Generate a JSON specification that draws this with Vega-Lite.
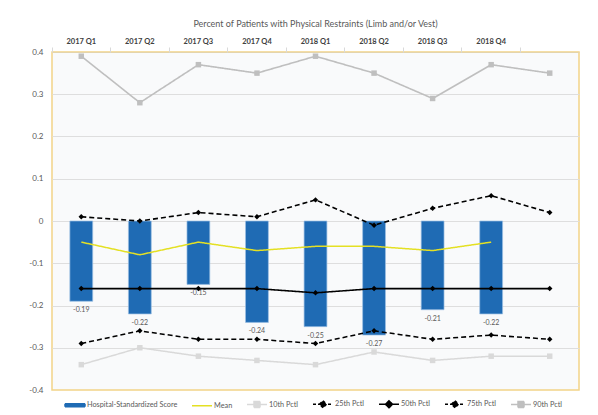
{
  "$schema": "https://vega.github.io/schema/vega-lite/v6.json",
  "width": 527,
  "height": 338,
  "autosize": "none",
  "padding": {"left": 52, "top": 52, "right": 19, "bottom": 25},
  "background": "white",
  "title": {"text": "Percent of Patients with Physical Restraints (Limb and/or Vest)", "fontSize": 9, "font": "Lato", "fontWeight": "normal", "color": "#595959", "anchor": "middle", "offset": 8},
  "config": {
    "font": "Lato",
    "view": {"fill": "#f9fafb", "stroke": "#f2d488", "strokeWidth": 1.5}
  },
  "data": {"values": [
    {"q": "2017 Q1", "Hospital-Standardized Score": -0.19, "Mean": -0.05, "10th Pctl": -0.34, "25th Pctl": -0.29, "50th Pctl": -0.16, "75th Pctl": 0.01, "90th Pctl": 0.39},
    {"q": "2017 Q2", "Hospital-Standardized Score": -0.22, "Mean": -0.08, "10th Pctl": -0.30, "25th Pctl": -0.26, "50th Pctl": -0.16, "75th Pctl": 0.00, "90th Pctl": 0.28},
    {"q": "2017 Q3", "Hospital-Standardized Score": -0.15, "Mean": -0.05, "10th Pctl": -0.32, "25th Pctl": -0.28, "50th Pctl": -0.16, "75th Pctl": 0.02, "90th Pctl": 0.37},
    {"q": "2017 Q4", "Hospital-Standardized Score": -0.24, "Mean": -0.07, "10th Pctl": -0.33, "25th Pctl": -0.28, "50th Pctl": -0.16, "75th Pctl": 0.01, "90th Pctl": 0.35},
    {"q": "2018 Q1", "Hospital-Standardized Score": -0.25, "Mean": -0.06, "10th Pctl": -0.34, "25th Pctl": -0.29, "50th Pctl": -0.17, "75th Pctl": 0.05, "90th Pctl": 0.39},
    {"q": "2018 Q2", "Hospital-Standardized Score": -0.27, "Mean": -0.06, "10th Pctl": -0.31, "25th Pctl": -0.26, "50th Pctl": -0.16, "75th Pctl": -0.01, "90th Pctl": 0.35},
    {"q": "2018 Q3", "Hospital-Standardized Score": -0.21, "Mean": -0.07, "10th Pctl": -0.33, "25th Pctl": -0.28, "50th Pctl": -0.16, "75th Pctl": 0.03, "90th Pctl": 0.29},
    {"q": "2018 Q4", "Hospital-Standardized Score": -0.22, "Mean": -0.05, "10th Pctl": -0.32, "25th Pctl": -0.27, "50th Pctl": -0.16, "75th Pctl": 0.06, "90th Pctl": 0.37},
    {"q": "2019 Q1", "10th Pctl": -0.32, "25th Pctl": -0.28, "50th Pctl": -0.16, "75th Pctl": 0.02, "90th Pctl": 0.35}
  ]},
  "transform": [
    {"fold": ["Hospital-Standardized Score", "Mean", "10th Pctl", "25th Pctl", "50th Pctl", "75th Pctl", "90th Pctl"], "as": ["series", "value"]},
    {"filter": "isValid(datum.value)"}
  ],
  "encoding": {
    "x": {
      "field": "q", "type": "nominal", "sort": null, "title": null,
      "scale": {"paddingInner": 0.61, "paddingOuter": 0.305},
      "axis": {"orient": "top", "labelAngle": 0, "labelFontWeight": "bold", "labelFontSize": 7.5, "labelColor": "#404040", "domain": false, "ticks": true, "tickColor": "#d9d9d9", "tickSize": 5, "bandPosition": -0.782, "labelPadding": 2, "labelExpr": "datum.value == '2019 Q1' ? '' : datum.value", "grid": false}
    },
    "y": {
      "field": "value", "type": "quantitative",
      "scale": {"domain": [-0.4, 0.4], "nice": false, "zero": false},
      "axis": {"values": [-0.4, -0.3, -0.2, -0.1, 0, 0.1, 0.2, 0.3, 0.4], "format": ".1~f", "labelExpr": "replace(datum.label, '\u2212', '-')", "domain": false, "ticks": false, "grid": true,
        "gridColor": {"condition": [{"test": "datum.value > 0.39", "value": "#e4d4ab"}, {"test": "datum.value < -0.39", "value": "transparent"}], "value": "#dedede"},
        "labelColor": "#595959", "labelFontSize": 8, "labelPadding": 9, "title": null}
    },
    "color": {
      "field": "series", "type": "nominal",
      "scale": {"domain": ["Hospital-Standardized Score", "Mean", "10th Pctl", "25th Pctl", "50th Pctl", "75th Pctl", "90th Pctl"], "range": ["#1f6bb4", "#e4e024", "#d9d9d9", "#000000", "#000000", "#000000", "#bfbfbf"]},
      "legend": {
        "orient": "none", "legendX": 12, "legendY": 341, "direction": "horizontal", "columns": 7, "title": null, "padding": 0,
        "labelFontSize": 7.3, "labelColor": "#595959", "symbolSize": 400, "symbolStrokeWidth": 1.5, "columnPadding": 11, "labelOffset": 1,
        "encode": {"symbols": {"update": {
          "shape": {"signal": "['M-1,-0.15H1V0.15H-1Z','M-1,0H1','M-1,0H1M-0.3,-0.3H0.3V0.3H-0.3Z','M-1,0H1M0,-0.35L0.35,0L0,0.35L-0.35,0Z','M-1,0H1M0,-0.35L0.35,0L0,0.35L-0.35,0Z','M-1,0H1M0,-0.35L0.35,0L0,0.35L-0.35,0Z','M-1,0H1M-0.3,-0.3H0.3V0.3H-0.3Z'][indexof(['Hospital-Standardized Score','Mean','10th Pctl','25th Pctl','50th Pctl','75th Pctl','90th Pctl'], datum.value)]"},
          "fill": {"signal": "['#1f6bb4','transparent','#d9d9d9','#000000','#000000','#000000','#bfbfbf'][indexof(['Hospital-Standardized Score','Mean','10th Pctl','25th Pctl','50th Pctl','75th Pctl','90th Pctl'], datum.value)]"},
          "stroke": {"signal": "['transparent','#e4e024','#d9d9d9','#000000','#000000','#000000','#bfbfbf'][indexof(['Hospital-Standardized Score','Mean','10th Pctl','25th Pctl','50th Pctl','75th Pctl','90th Pctl'], datum.value)]"},
          "strokeDash": {"signal": "[[1,0],[1,0],[1,0],[3,2],[1,0],[3,2],[1,0]][indexof(['Hospital-Standardized Score','Mean','10th Pctl','25th Pctl','50th Pctl','75th Pctl','90th Pctl'], datum.value)]"},
          "opacity": {"value": 1}
        }}}
      }
    }
  },
  "layer": [
    {
      "transform": [{"filter": "datum.series == 'Hospital-Standardized Score'"}],
      "mark": {"type": "bar", "stroke": "#9cc0e4", "strokeWidth": 0.7}
    },
    {
      "transform": [{"filter": "datum.series == 'Hospital-Standardized Score'"}, {"calculate": "replace(format(datum.value, '.2f'), '\u2212', '-')", "as": "label"}],
      "mark": {"type": "text", "dy": 9, "fontSize": 7, "baseline": "middle"},
      "encoding": {"text": {"field": "label"}, "color": {"value": "#595959"}}
    },
    {
      "transform": [{"filter": "datum.series != 'Hospital-Standardized Score'"}],
      "mark": {"type": "line"},
      "encoding": {
        "strokeDash": {"field": "series", "type": "nominal", "scale": {"domain": ["Mean", "10th Pctl", "25th Pctl", "50th Pctl", "75th Pctl", "90th Pctl"], "range": [[1, 0], [1, 0], [5, 3], [1, 0], [5, 3], [1, 0]]}, "legend": null},
        "strokeWidth": {"field": "series", "type": "nominal", "scale": {"domain": ["Mean", "10th Pctl", "25th Pctl", "50th Pctl", "75th Pctl", "90th Pctl"], "range": [1.5, 1.6, 2, 2, 2, 1.6]}, "legend": null}
      }
    },
    {
      "transform": [{"filter": "indexof(['10th Pctl','25th Pctl','50th Pctl','75th Pctl','90th Pctl'], datum.series) >= 0"}],
      "mark": {"type": "point", "filled": true, "opacity": 1, "size": 30},
      "encoding": {
        "shape": {"field": "series", "type": "nominal", "scale": {"domain": ["10th Pctl", "25th Pctl", "50th Pctl", "75th Pctl", "90th Pctl"], "range": ["square", "diamond", "diamond", "diamond", "square"]}, "legend": null}
      }
    }
  ]
}
